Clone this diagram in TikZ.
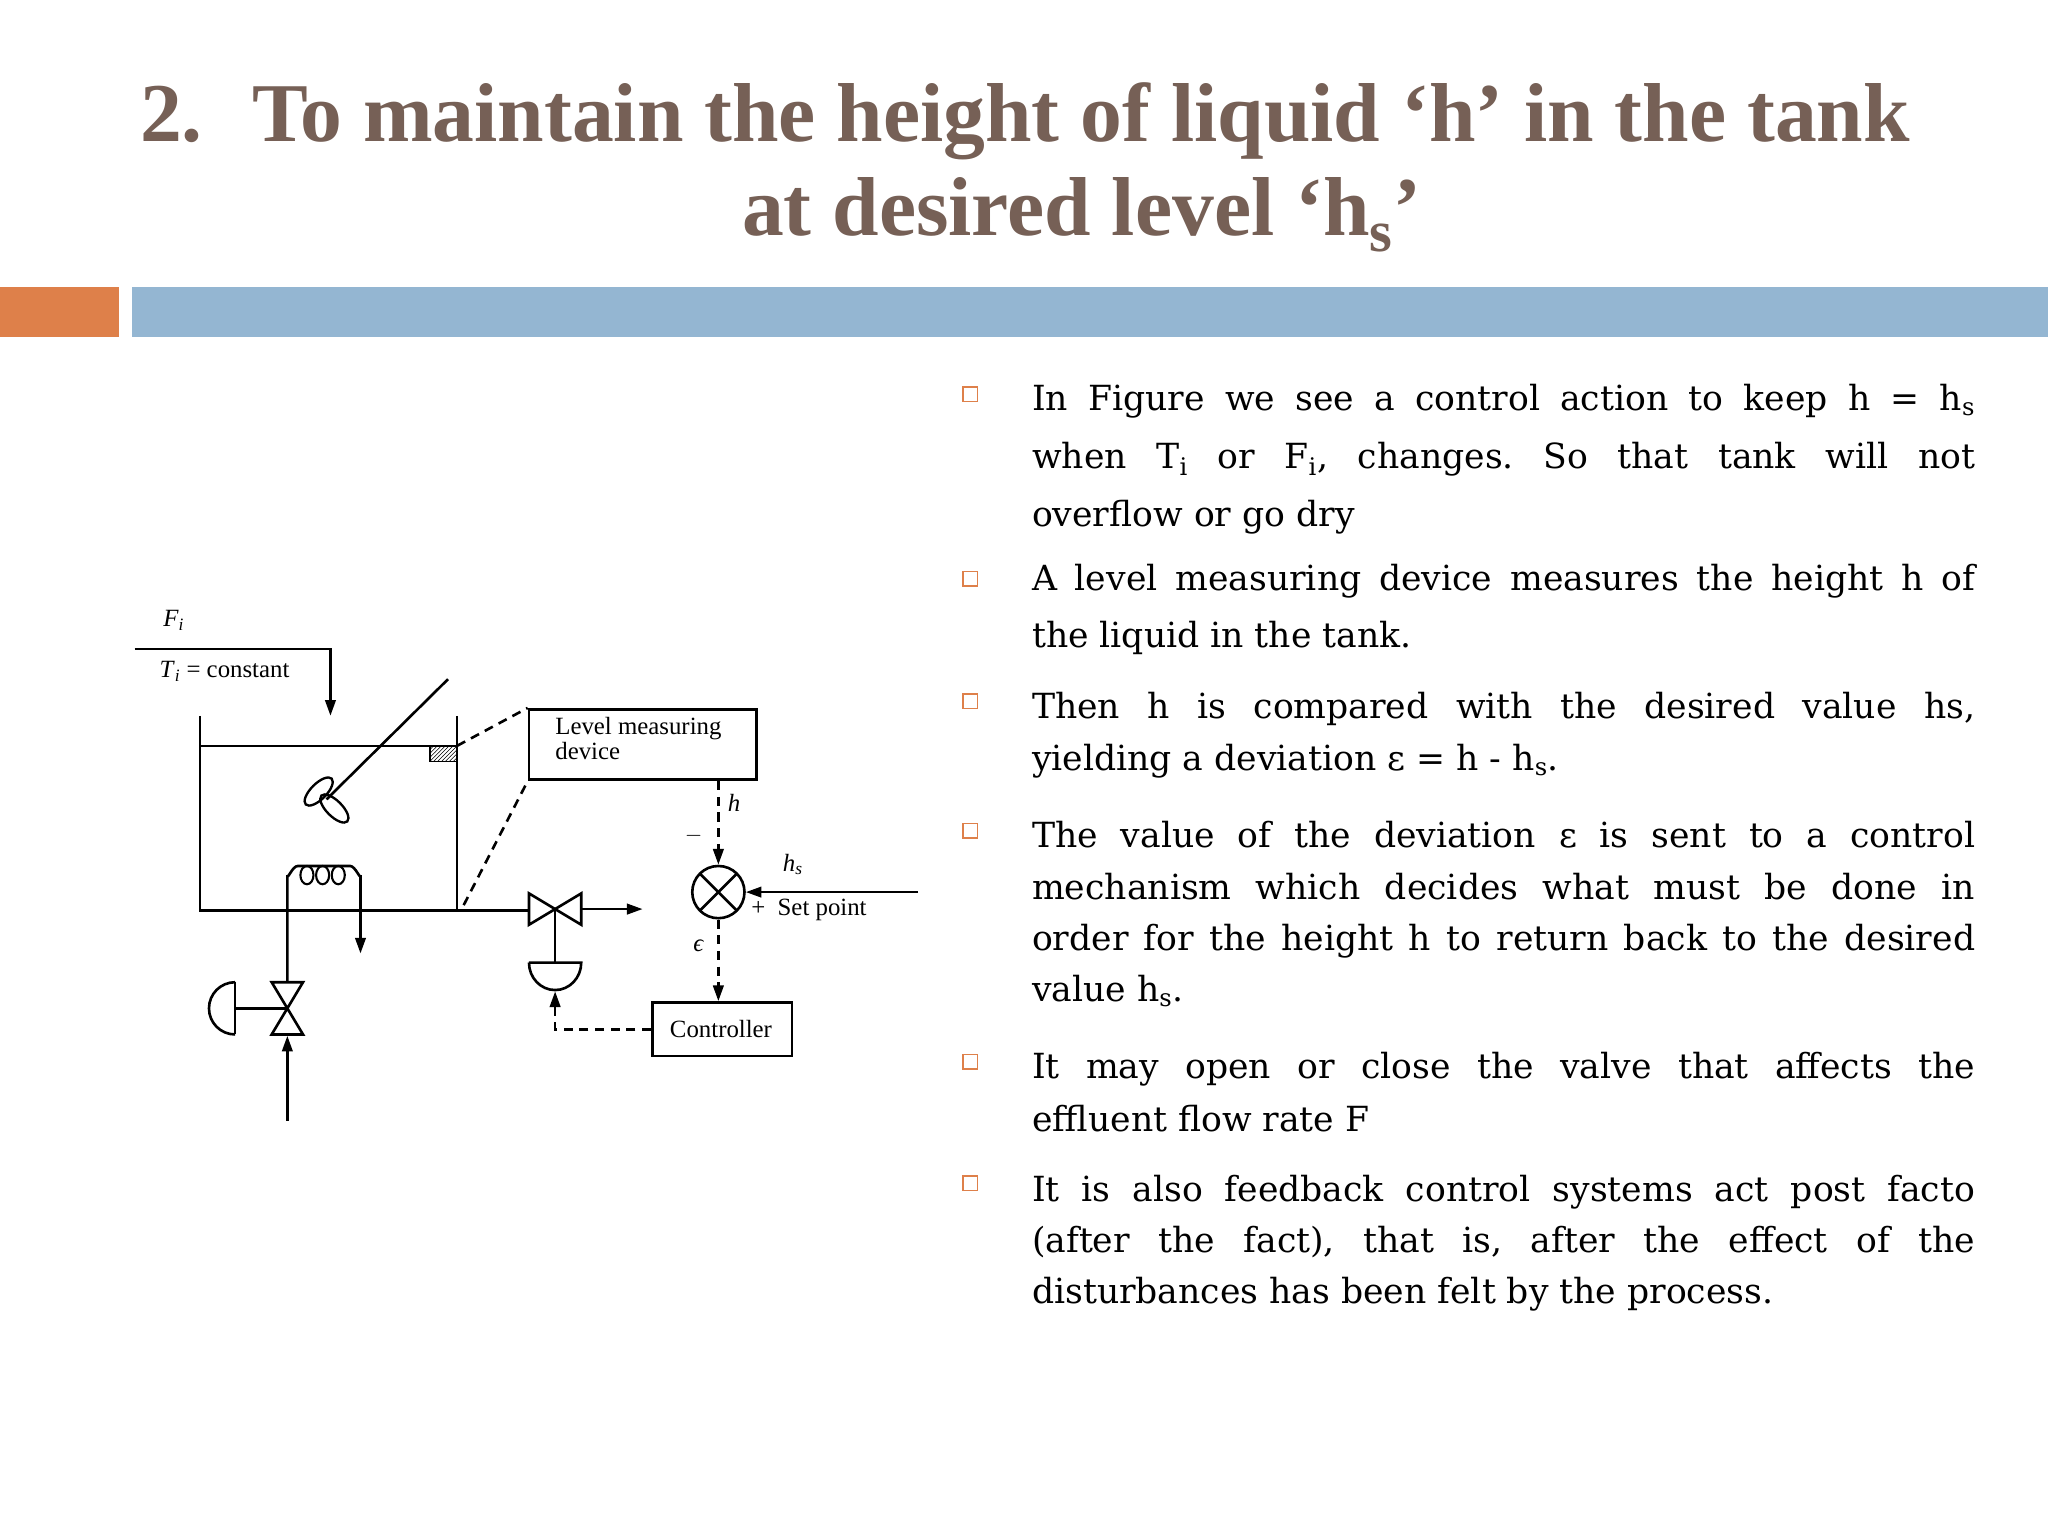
\documentclass[tikz,border=0pt]{standalone}
\usepackage{fontspec}
\setmainfont{Liberation Serif}
\newfontfamily\bodyf{DejaVu Serif}
\usetikzlibrary{patterns,arrows.meta,calc}
\definecolor{titlec}{RGB}{118,96,86}
\definecolor{orbar}{RGB}{222,128,74}
\definecolor{blbar}{RGB}{148,182,210}
\tikzset{
 bodyt/.style={anchor=base west,inner sep=0,font=\bodyf\frenchspacing\fontsize{26.5}{34}\selectfont},
 bul/.style={draw=orbar,line width=1.2pt,minimum size=11,inner sep=0},
 ln/.style={line width=2pt},
 dsh/.style={line width=2pt,dash pattern=on 7pt off 5pt},
 arr/.style={-{Triangle[length=12pt,width=8pt]}},
 dg/.style={inner sep=0,font=\fontsize{19}{21}\selectfont},
 bx/.style={draw,line width=2pt,inner sep=0}
}
\newcommand{\jl}[1]{\makebox[722pt][s]{#1}}
\newcommand{\iv}[2]{\textit{#1}\textsubscript{\textit{#2}}}
\begin{document}
\begin{tikzpicture}[x=1pt,y=-1pt]
\useasboundingbox (0,0) rectangle (1568,1176);
\fill[white] (0,0) rectangle (1568,1176);
% title
\begin{scope}[every node/.style={text=titlec,inner sep=0,font=\bfseries\fontsize{64}{70}\selectfont}]
\node[anchor=base west] (t0) at (107,108) {2.};
\node[anchor=base west] (t1) at (193,108) {To maintain the height of liquid ‘h’ in the tank};
\node[anchor=base] (t2) at (828,180) {at desired level ‘h\textsubscript{s}’};
\end{scope}
\fill[orbar] (0,220) rectangle (91,258);
\fill[blbar] (101,220) rectangle (1568,258);
% bullets
\foreach \y/\n in {302/b1,443/b2,537/b3,636/b4,813/b5,906/b6}{\node[bul] (\n) at (743,\y) {};}
\node[bodyt] (p11) at (790,314) {\jl{In Figure we see a control action to keep h = h\textsubscript{s}}};
\node[bodyt] (p12) at (790,359) {\jl{when T\textsubscript{i} or F\textsubscript{i}, changes. So that tank will not}};
\node[bodyt] (p13) at (790,403) {overflow or go dry};
\node[bodyt] (p21) at (790,452) {\jl{A level measuring device measures the height h of}};
\node[bodyt] (p22) at (790,496) {the liquid in the tank.};
\node[bodyt] (p31) at (790,550) {\jl{Then h is compared with the desired value hs,}};
\node[bodyt] (p32) at (790,590) {yielding a deviation ε = h - h\textsubscript{s}.};
\node[bodyt] (p41) at (790,649) {\jl{The value of the deviation ε is sent to a control}};
\node[bodyt] (p42) at (790,689) {\jl{mechanism which decides what must be done in}};
\node[bodyt] (p43) at (790,728) {\jl{order for the height h to return back to the desired}};
\node[bodyt] (p44) at (790,767) {value h\textsubscript{s}.};
\node[bodyt] (p51) at (790,826) {\jl{It may open or close the valve that affects the}};
\node[bodyt] (p52) at (790,866) {effluent flow rate F};
\node[bodyt] (p61) at (790,920) {\jl{It is also feedback control systems act post facto}};
\node[bodyt] (p62) at (790,959) {\jl{(after the fact), that is, after the effect of the}};
\node[bodyt] (p63) at (790,998) {disturbances has been felt by the process.};
% diagram
\node[dg] (fi) at (133,475) {\iv{F}{i}};
\node[dg,anchor=west] (ti) at (122,514) {\iv{T}{i} = constant};
\coordinate (in0) at (103,497); \coordinate (in1) at (253,497); \coordinate (in2) at (253,548);
\draw[ln,arr] (in0) -- (in1) -- (in2);
\draw[ln] (153,548) -- (153,697) -- (352,697) -- (405,697);
\draw[ln] (350,548) -- (350,697);
\draw[ln] (153,571) -- (350,571);
\draw[line width=1.5pt,pattern=north east lines] (329,571) rectangle (350,583);
\draw[ln] (343,520) -- (250,612);
\draw[line width=1.8pt,rotate around={45:(244,606)}] (244,606) ellipse (14 and 6);
\draw[line width=1.8pt,rotate around={-45:(256,619)}] (256,619) ellipse (14 and 6);
% coil
\draw[ln] (220,772) -- (220,670) to[out=-90,in=180] (228,663) -- (268,663) to[out=0,in=-90] (276,670) -- (276,697);
\draw[ln,arr] (276,697) -- (276,730);
\foreach \cx in {235,247,259}{\draw[line width=1.6pt] (\cx,670) ellipse (5 and 7);}
% outlet valve
\draw[ln,fill=white] (405,684) -- (425,696) -- (405,708) -- cycle;
\draw[ln,fill=white] (445,684) -- (425,696) -- (445,708) -- cycle;
\draw[ln,arr] (445,696) -- (492,696);
\draw[ln] (425,696) -- (425,737);
\draw[ln] (405,737) -- (445,737) arc (0:180:20 and 21);
% inlet valve
\draw[ln,fill=white] (208,752) -- (220,772) -- (232,752) -- cycle;
\draw[ln,fill=white] (208,792) -- (220,772) -- (232,792) -- cycle;
\draw[ln] (180,772) -- (220,772);
\draw[ln] (180,752) arc (-90:-270:20);
\draw[ln] (180,752) -- (180,792);
\draw[ln,arr] (220,858) -- (220,793);
% level box
\node[bx,minimum width=174,minimum height=54] (lm) at (492,570) {};
\node[dg,anchor=north west,align=left] (lmt) at (425,549) {Level measuring\\[-2pt]device};
\draw[dsh] (350,571) -- (lm.north west);
\draw[dsh] (355,693) -- (lm.south west);
% comparator
\node[draw,circle,line width=2pt,minimum size=40,inner sep=0] (cmp) at (550,683) {};
\draw[ln] ($(cmp.center)+(-14,-14)$) -- ($(cmp.center)+(14,14)$);
\draw[ln] ($(cmp.center)+(14,-14)$) -- ($(cmp.center)+(-14,14)$);
\draw[dsh,arr] (lm.south -| cmp) -- (cmp.north);
\node[dg] (hl) at (562,615) {\textit{h}};
\node[dg] (mi) at (531,640) {$-$};
\coordinate (sp) at (703,683);
\draw[ln,arr] (sp) -- (cmp.east);
\node[dg] (hs) at (607,662) {\iv{h}{s}};
\node[dg,anchor=west] (spt) at (575,697) {+\ \ Set point};
\node[dg] (eps) at (535,724) {\textit{ϵ}};
\node[bx,minimum width=107,minimum height=41] (ctl) at (553,788) {};
\node[dg] (ctlt) at (552,788) {Controller};
\draw[dsh,arr] (cmp.south) -- (cmp.south |- ctl.north);
\draw[dsh,arr] (ctl.west) -- (425,788) -- (425,759);
\end{tikzpicture}
\end{document}
